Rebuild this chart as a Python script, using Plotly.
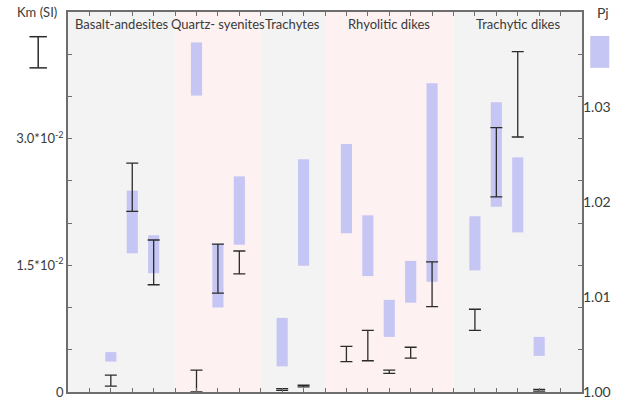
import plotly.graph_objects as go

# ---- data ----
groups = ["Basalt-andesites", "Quartz- syenites", "Trachytes", "Rhyolitic dikes", "Trachytic dikes"]
group_start = [0, 5, 9, 12, 18]
group_end = [5, 9, 12, 18, 24]
group_colors = ["#f3f3f3", "#fdf1f1", "#f3f3f3", "#fdf1f1", "#f3f3f3"]

# Pj ranges (bars, right axis)
pj_pos = [2, 3, 4, 6, 7, 8, 10, 11, 13, 14, 15, 16, 17, 19, 20, 21, 22]
pj_low = [1.0032, 1.0146, 1.0125, 1.0312, 1.0089, 1.0155, 1.0027, 1.0133, 1.0167, 1.0122, 1.0058, 1.0094, 1.0116, 1.0128, 1.0195, 1.0168, 1.0038]
pj_high = [1.0042, 1.0212, 1.0165, 1.0368, 1.0156, 1.0227, 1.0078, 1.0245, 1.0261, 1.0186, 1.0097, 1.0138, 1.0325, 1.0185, 1.0305, 1.0247, 1.0058]

# Km ranges (error bars, left axis)
km_pos = [2, 3, 4, 6, 7, 8, 10, 11, 13, 14, 15, 16, 17, 19, 20, 21, 22]
km_low = [0.0007, 0.0214, 0.0127, 0.0, 0.0117, 0.0140, 0.0002, 0.0006, 0.0036, 0.0037, 0.0022, 0.0040, 0.0101, 0.0073, 0.0231, 0.0302, 0.0001]
km_high = [0.0020, 0.0271, 0.0180, 0.0026, 0.0175, 0.0167, 0.0004, 0.0008, 0.0054, 0.0073, 0.0026, 0.0053, 0.0154, 0.0098, 0.0313, 0.0403, 0.0003]

left_tickvals = [0, 0.015, 0.03]
left_ticktext = ["0", "1.5*10<sup>-2</sup>", "3.0*10<sup>-2</sup>"]
right_tickvals = [1.00, 1.01, 1.02, 1.03]
right_ticktext = ["1.00", "1.01", "1.02", "1.03"]

FONT = "Lato"
TXT = "#3a3a3a"
AX = "#6e6e6e"
BAR = "#c6c6f4"

fig = go.Figure()

# Pj bars on the base axis (y, drawn on the right side)
fig.add_trace(go.Bar(
    x=pj_pos, y=[h - l for h, l in zip(pj_high, pj_low)], base=pj_low,
    width=0.52, marker=dict(color=BAR, line=dict(width=0)),
    yaxis="y", showlegend=False, hoverinfo="skip"))

# Km error bars on the overlaying axis (y2, drawn on the left side) so they sit on top
km_mid = [(h + l) / 2 for h, l in zip(km_high, km_low)]
fig.add_trace(go.Scatter(
    x=km_pos, y=km_mid, mode="markers",
    marker=dict(size=0.1, color="rgba(0,0,0,0)"),
    error_y=dict(type="data", symmetric=False,
                 array=[h - m for h, m in zip(km_high, km_mid)],
                 arrayminus=[m - l for m, l in zip(km_mid, km_low)],
                 color="#2b2b2b", thickness=1.3, width=6),
    yaxis="y2", showlegend=False, hoverinfo="skip"))

shapes = []
for s, e, c in zip(group_start, group_end, group_colors):
    shapes.append(dict(type="rect", xref="x", yref="paper", x0=s, x1=e, y0=0, y1=1,
                       fillcolor=c, line=dict(width=0), layer="below"))

# legend glyphs (paper coordinates)
shapes += [
    dict(type="line", xref="paper", yref="paper", x0=-0.058, x1=-0.058, y0=0.935, y1=0.853,
         line=dict(color="#2b2b2b", width=1.5)),
    dict(type="line", xref="paper", yref="paper", x0=-0.075, x1=-0.041, y0=0.935, y1=0.935,
         line=dict(color="#2b2b2b", width=1.5)),
    dict(type="line", xref="paper", yref="paper", x0=-0.075, x1=-0.041, y0=0.853, y1=0.853,
         line=dict(color="#2b2b2b", width=1.5)),
    dict(type="rect", xref="paper", yref="paper", x0=1.016, x1=1.053, y0=0.853, y1=0.937,
         fillcolor=BAR, line=dict(width=0)),
]

annotations = []
for g, s, e in zip(groups, group_start, group_end):
    annotations.append(dict(x=(s + e) / 2, y=0.995, xref="x", yref="paper", text=g,
                            showarrow=False, yanchor="top", xanchor="center",
                            font=dict(family=FONT, size=13, color=TXT)))
annotations += [
    dict(x=-0.060, y=1.0, xref="paper", yref="paper", text="Km (SI)", showarrow=False,
         xanchor="center", yanchor="middle", font=dict(family=FONT, size=13, color=TXT)),
    dict(x=1.04, y=1.0, xref="paper", yref="paper", text="Pj", showarrow=False,
         xanchor="center", yanchor="middle", font=dict(family=FONT, size=14, color=TXT)),
]

fig.update_layout(
    width=626, height=400,
    margin=dict(l=68, r=44, t=12, b=8, autoexpand=False),
    paper_bgcolor="white", plot_bgcolor="white",
    barmode="overlay",
    shapes=shapes, annotations=annotations,
    xaxis=dict(range=[0, 24], tickvals=list(range(0, 25)), showticklabels=False,
               ticks="inside", ticklen=4, tickcolor=AX, showgrid=False, zeroline=False,
               showline=True, linecolor=AX, linewidth=1.5, mirror="ticks"),
    yaxis=dict(range=[1.0, 1.04], side="right", tickvals=right_tickvals,
               ticktext=right_ticktext, ticks="", showgrid=False, zeroline=False,
               showline=False, tickfont=dict(family=FONT, size=14, color=TXT)),
    yaxis2=dict(range=[0, 0.045], overlaying="y", side="left",
                tickvals=left_tickvals, ticktext=left_ticktext,
                ticks="inside", ticklen=4, tickcolor=AX, showgrid=False, zeroline=False,
                minor=dict(ticks="inside", ticklen=4, tickcolor=AX, dtick=0.005, tick0=0,
                           showgrid=False),
                showline=True, linecolor=AX, linewidth=1.5, mirror="ticks",
                tickfont=dict(family=FONT, size=13, color=TXT)),
)

fig.write_html("out.html", config={"displayModeBar": False},
               post_script="document.body.style.margin='0';")
